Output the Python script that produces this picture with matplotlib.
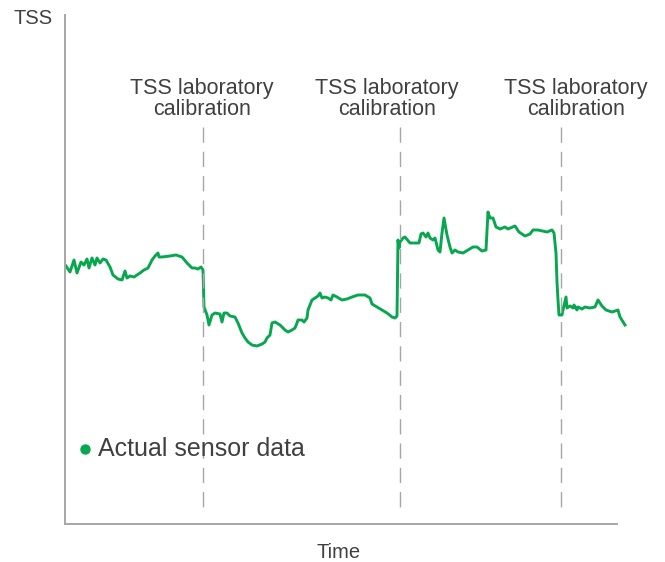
"""TSS sensor readings with laboratory calibration points."""
import matplotlib

matplotlib.use("Agg")
import matplotlib.pyplot as plt

plt.rcParams["font.family"] = ["Liberation Sans", "DejaVu Sans"]

GREEN = "#07a74f"
GREY = "#a6a6a6"
TEXT = "#404040"

# sensor trace, arbitrary time / TSS units
time = [
    1, 5, 9, 12, 16, 19, 22, 24, 27, 30, 32, 35, 38, 41, 45, 48, 53, 57, 60, 62,
    65, 69, 75, 79, 83, 87, 90, 93, 94, 97, 105, 111, 117, 122, 127, 130, 133, 136, 138, 139,
    142, 144, 147, 150, 155, 157, 159, 162, 165, 170, 173, 177, 180, 183, 187, 192, 197, 200, 202, 205,
    207, 210, 215, 220, 223, 227, 230, 232, 233, 237, 239, 242, 243, 247, 250, 253, 255, 257, 260, 263,
    266, 268, 272, 277, 282, 287, 293, 300, 305, 307, 312, 317, 322, 327, 330, 332, 333, 334, 335, 338,
    340, 345, 350, 354, 356, 358, 361, 363, 365, 368, 370, 373, 375, 377, 379, 382, 385, 387, 390, 393,
    398, 403, 408, 412, 417, 421, 422, 423, 425, 428, 431, 435, 440, 443, 450, 454, 460, 465, 468, 473,
    482, 487, 489, 491, 492, 493, 494, 497, 498, 501, 502, 505, 508, 509, 512, 513, 517, 520, 525, 530,
    533, 537, 541, 547, 553, 555, 560,
]
tss = [
    258, 252, 264, 251, 262, 259, 265, 256, 266, 259, 266, 261, 265, 264, 257, 249, 245, 244, 253, 246,
    248, 247, 251, 254, 256, 264, 268, 271, 267, 267, 268, 269, 267, 261, 256, 256, 255, 257, 254, 217,
    209, 199, 209, 211, 210, 202, 211, 211, 208, 207, 201, 191, 186, 182, 179, 178, 180, 182, 186, 189,
    201, 202, 199, 194, 192, 194, 196, 201, 204, 204, 202, 206, 214, 224, 226, 228, 231, 226, 227, 226,
    224, 229, 227, 224, 225, 227, 229, 229, 226, 220, 217, 214, 211, 207, 206, 208, 284, 276, 282, 286,
    287, 281, 281, 281, 290, 291, 287, 291, 286, 284, 286, 274, 272, 291, 306, 289, 277, 271, 274, 272,
    271, 274, 277, 277, 273, 274, 294, 312, 306, 306, 297, 295, 297, 295, 298, 292, 288, 290, 294, 294,
    292, 294, 291, 271, 242, 224, 209, 209, 214, 227, 216, 218, 216, 219, 214, 217, 215, 217, 216, 217,
    224, 218, 214, 212, 214, 207, 199,
]

calibration_times = [138, 335, 496]
calibration_label_x = [137, 322, 511]
calibration_lines = ["TSS laboratory", "calibration"]

fig = plt.figure(figsize=(6.65, 5.62), dpi=100)
ax = fig.add_axes([65 / 665, 1 - 524 / 562, 552 / 665, 509 / 562])
ax.set_xlim(0, 552)
ax.set_ylim(0, 509)

for t in calibration_times:
    ax.plot([t, t], [397, 13], color=GREY, lw=1.0, dashes=(11, 6.5), zorder=3)

ax.plot(time, tss, color=GREEN, lw=2.1, solid_joinstyle="round", clip_on=False, zorder=2)

for x in calibration_label_x:
    ax.text(x, 436, calibration_lines[0], ha="center", va="center", fontsize=15.5, color=TEXT)
    ax.text(x, 415, calibration_lines[1], ha="center", va="center", fontsize=15.5, color=TEXT)

ax.plot([20], [75], "o", color=GREEN, ms=6.5, clip_on=False)
ax.text(33, 75, "Actual sensor data", ha="left", va="center", fontsize=18, color=TEXT)

for side in ("top", "right"):
    ax.spines[side].set_visible(False)
for side in ("left", "bottom"):
    ax.spines[side].set_color(GREY)
    ax.spines[side].set_linewidth(1.4)
ax.set_xticks([])
ax.set_yticks([])

fig.text(13 / 665, 1 - 18.5 / 562, "TSS", ha="left", va="center", fontsize=14.5, color=TEXT)
fig.text(339 / 665, 1 - 552 / 562, "Time", ha="center", va="center", fontsize=14.5, color=TEXT)

fig.savefig("out.png", dpi=100)
plt.close(fig)
